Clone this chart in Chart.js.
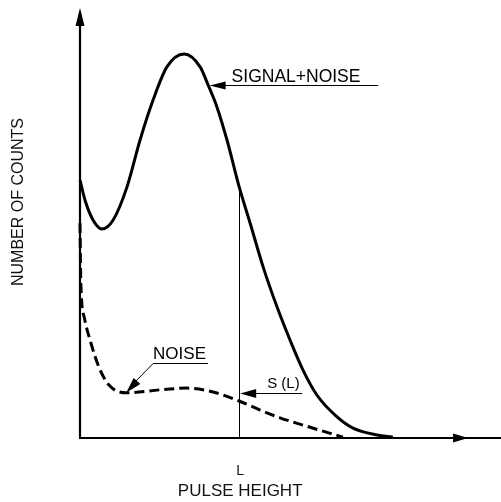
<!DOCTYPE html>
<html>
<head>
<meta charset="utf-8">
<script src="https://cdn.jsdelivr.net/npm/chart.js@4.4.1/dist/chart.umd.min.js"></script>
<style>
    html, body { margin: 0; padding: 0; background: #fff; }
    #wrap { width: 501px; height: 502px; position: relative; }
</style>
</head>
<body>
<div id="wrap"><canvas id="pulse"></canvas></div>
<script>
// signal + noise spectrum (solid curve)
const pulseSolid = [0, 1.2, 3.1, 5.2, 7.9, 11.2, 14.3, 17.4, 20.7, 24.8, 28.6, 30.5, 32.6, 35.0, 37.9, 40.5, 43.6, 46.9, 50.0, 53.1, 56.4, 61.2, 65.0, 70.7, 74.5];
const countsSolid = [60.0, 55.3, 50.7, 48.6, 50.7, 58.4, 69.3, 78.6, 86.3, 89.3, 86.3, 82.1, 77.0, 69.3, 58.4, 50.0, 39.8, 30.5, 22.8, 15.8, 10.0, 4.9, 2.3, 0.7, 0.2];

// noise only (dashed curve)
const pulseNoise = [0, 0.2, 1.0, 2.6, 4.5, 6.9, 11.0, 19.0, 25.5, 31.7, 37.9, 42.9, 47.6, 53.1, 62.6];
const countsNoise = [50.0, 36.0, 28.1, 22.1, 16.5, 12.3, 10.5, 11.2, 11.6, 10.7, 8.6, 6.5, 4.7, 3.0, 0.2];

// discriminator level L
const thresholdL = 37.9;

const FONT = "'Liberation Sans', Arial, sans-serif";

function toPoints(xs, ys) {
    return xs.map((x, i) => ({ x: x, y: ys[i] }));
}

function arrowHead(ctx, fromX, fromY, tipX, tipY, len, half) {
    const a = Math.atan2(tipY - fromY, tipX - fromX);
    ctx.beginPath();
    ctx.moveTo(tipX, tipY);
    ctx.lineTo(tipX - len * Math.cos(a) + half * Math.sin(a), tipY - len * Math.sin(a) - half * Math.cos(a));
    ctx.lineTo(tipX - len * Math.cos(a) - half * Math.sin(a), tipY - len * Math.sin(a) + half * Math.cos(a));
    ctx.closePath();
    ctx.fill();
}

const sketchPlugin = {
    id: "sketch",
    beforeDatasetsDraw(chart) {
        const ctx = chart.ctx;
        const x = chart.scales.x;
        const y = chart.scales.y;
        const x0 = x.getPixelForValue(0);
        const y0 = y.getPixelForValue(0);
        ctx.save();
        ctx.strokeStyle = "#000";
        ctx.fillStyle = "#000";

        // axes with arrows
        ctx.lineWidth = 2.2;
        ctx.beginPath();
        ctx.moveTo(x0, y0);
        ctx.lineTo(x0, chart.chartArea.top + 4);
        ctx.moveTo(x0 - 1, y0);
        ctx.lineTo(chart.width, y0);
        ctx.stroke();
        arrowHead(ctx, x0, y0, x0, chart.chartArea.top, 18, 4.5);
        const xTip = x.getPixelForValue(92.4);
        arrowHead(ctx, x0, y0, xTip, y0, 15, 4.5);

        // vertical line at L up to the solid curve
        const idx = pulseSolid.indexOf(thresholdL);
        const lx = Math.round(x.getPixelForValue(thresholdL)) + 0.5;
        ctx.lineWidth = 1;
        ctx.beginPath();
        ctx.moveTo(lx, y0);
        ctx.lineTo(lx, y.getPixelForValue(countsSolid[idx]));
        ctx.stroke();
        ctx.restore();
    },
    afterDatasetsDraw(chart) {
        const ctx = chart.ctx;
        const x = chart.scales.x;
        const y = chart.scales.y;
        ctx.save();
        ctx.strokeStyle = "#000";
        ctx.fillStyle = "#000";
        ctx.lineWidth = 1;
        ctx.textBaseline = "alphabetic";
        ctx.textAlign = "left";

        // SIGNAL+NOISE label
        let tx = x.getPixelForValue(pulseSolid[11]) + 1.5;
        let ty = Math.round(y.getPixelForValue(countsSolid[11])) + 0.5;
        let ex = x.getPixelForValue(71.0);
        ctx.beginPath();
        ctx.moveTo(tx + 10, ty);
        ctx.lineTo(ex, ty);
        ctx.stroke();
        arrowHead(ctx, ex, ty, tx, ty, 16, 4);
        ctx.font = "17.5px " + FONT;
        ctx.fillText("SIGNAL+NOISE", tx + 22, ty - 4);

        // NOISE label with slanted leader
        const nx = x.getPixelForValue(pulseNoise[6]);
        const ny = y.getPixelForValue(countsNoise[6]);
        const ux0 = x.getPixelForValue(17.4);
        const ux1 = x.getPixelForValue(30.5);
        const uy = Math.round(y.getPixelForValue(17.4)) + 0.5;
        ctx.beginPath();
        ctx.moveTo(ux1, uy);
        ctx.lineTo(ux0, uy);
        ctx.lineTo(nx + 8, ny - 10);
        ctx.stroke();
        arrowHead(ctx, ux0, uy, nx, ny, 16, 4.5);
        ctx.font = "17px " + FONT;
        ctx.fillText("NOISE", ux0, uy - 5);

        // S (L) label
        const sx = x.getPixelForValue(thresholdL) + 1;
        const sy = Math.round(y.getPixelForValue(10.5)) + 0.5;
        const sEnd = x.getPixelForValue(52.9);
        ctx.beginPath();
        ctx.moveTo(sx + 10, sy);
        ctx.lineTo(sEnd, sy);
        ctx.stroke();
        arrowHead(ctx, sEnd, sy, sx, sy, 16, 4.5);
        ctx.font = "15px " + FONT;
        ctx.fillText("S (L)", sx + 27, sy - 6);

        // axis titles
        const lx = x.getPixelForValue(thresholdL);
        ctx.textAlign = "center";
        ctx.textBaseline = "middle";
        ctx.fillStyle = "#111";
        ctx.font = "14px " + FONT;
        ctx.fillText("L", lx + 1, 471);
        ctx.font = "17px " + FONT;
        ctx.fillText("PULSE HEIGHT", lx + 1, 491);
        ctx.translate(19, 202);
        ctx.rotate(-Math.PI / 2);
        ctx.font = "16px " + FONT;
        ctx.fillText("NUMBER OF COUNTS", 0, 0);
        ctx.restore();
    }
};

new Chart(document.getElementById("pulse").getContext("2d"), {
    type: "line",
    data: {
        datasets: [{
            label: "SIGNAL+NOISE",
            data: toPoints(pulseSolid, countsSolid),
            borderColor: "#000",
            borderWidth: 3,
            pointRadius: 0,
            fill: false,
            cubicInterpolationMode: "monotone",
            clip: false
        }, {
            label: "NOISE",
            data: toPoints(pulseNoise, countsNoise),
            borderColor: "#000",
            borderWidth: 3,
            borderDash: [10, 5],
            pointRadius: 0,
            fill: false,
            cubicInterpolationMode: "monotone",
            clip: false
        }]
    },
    options: {
        responsive: true,
        maintainAspectRatio: false,
        animation: false,
        layout: { padding: { left: 80, right: 1, top: 8, bottom: 64 } },
        plugins: {
            legend: { display: false },
            tooltip: { enabled: false }
        },
        scales: {
            x: { type: "linear", min: 0, max: 100, display: false },
            y: { min: 0, max: 100, display: false }
        }
    },
    plugins: [sketchPlugin]
});
</script>
</body>
</html>
